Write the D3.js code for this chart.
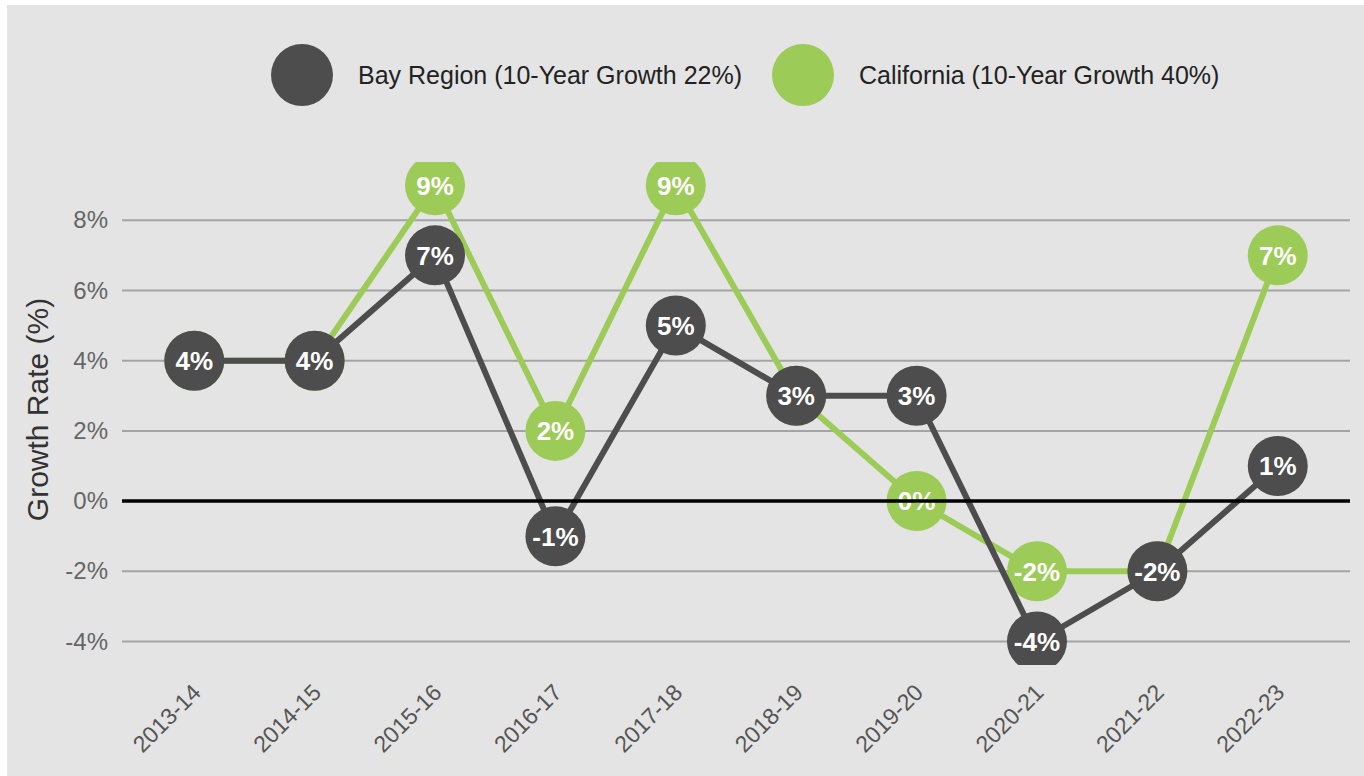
<!DOCTYPE html>
<html>
<head>
<meta charset="utf-8">
<script src="https://cdn.jsdelivr.net/npm/d3@7"></script>
<style>
  html, body { margin: 0; padding: 0; background: #ffffff; }
  svg { display: block; }
  text { font-family: "Liberation Sans", Arial, Helvetica, sans-serif; }
</style>
</head>
<body>
<svg id="chart" width="1364" height="776"></svg>
<script>
const categories = ["2013-14","2014-15","2015-16","2016-17","2017-18","2018-19","2019-20","2020-21","2021-22","2022-23"];
const bayValues = [4, 4, 7, -1, 5, 3, 3, -4, -2, 1];
const caValues  = [4, 4, 9, 2, 9, 3, 0, -2, -2, 7];
const yTicks = [-4, -2, 0, 2, 4, 6, 8];
const seriesNames = ["Bay Region (10-Year Growth 22%)", "California (10-Year Growth 40%)"];
const seriesColors = ["#4d4d4d", "#9dcb57"];

const W = 1364, H = 776;
const svg = d3.select("#chart");

// background panel
svg.append("rect").attr("x", 7).attr("y", 5).attr("width", W - 7).attr("height", H - 5).attr("fill", "#e4e4e4");

const plotLeft = 122, plotRight = 1350, plotTop = 162, plotBottom = 665;
const x = d3.scalePoint().domain(categories).range([plotLeft, plotRight]).padding(0.6);
const y = d3.scaleLinear().domain([-4.67, 9.66]).range([plotBottom, plotTop]);

// gridlines
const grid = svg.append("g");
grid.selectAll("line").data(yTicks.filter(d => d !== 0)).join("line")
  .attr("x1", plotLeft).attr("x2", plotRight)
  .attr("y1", d => y(d)).attr("y2", d => y(d))
  .attr("stroke", "#a4a4a4").attr("stroke-width", 2);

// y axis labels
const yAxis = d3.axisLeft(y).tickValues(yTicks).tickFormat(d => d + "%").tickSize(0).tickPadding(0);
const yG = svg.append("g").attr("transform", `translate(108,0)`).call(yAxis);
yG.select(".domain").remove();
yG.selectAll("text").attr("font-size", 24).attr("fill", "#666").attr("font-family", "Liberation Sans, Arial, sans-serif");

// y title
svg.append("text")
  .attr("transform", `translate(48,${(plotTop + plotBottom) / 2 - 4}) rotate(-90)`)
  .attr("text-anchor", "middle")
  .attr("font-size", 30).attr("fill", "#333")
  .text("Growth Rate (%)");

// x axis labels
const xAxis = d3.axisBottom(x).tickSize(0).tickPadding(0);
const xG = svg.append("g").attr("transform", `translate(0,0)`).call(xAxis);
xG.select(".domain").remove();
xG.selectAll(".tick").attr("transform", d => `translate(${x(d) + 8},694)`);
xG.selectAll("text")
  .attr("y", 0).attr("dy", 0)
  .attr("transform", "rotate(-45)")
  .attr("text-anchor", "end")
  .attr("font-size", 23).attr("fill", "#555").attr("font-family", "Liberation Sans, Arial, sans-serif");

// clip
svg.append("clipPath").attr("id", "plotclip").append("rect")
  .attr("x", 7).attr("y", plotTop).attr("width", W - 7).attr("height", plotBottom - plotTop);

const plot = svg.append("g").attr("clip-path", "url(#plotclip)");
const line = d3.line().x((d, i) => x(categories[i])).y(d => y(d));

function drawSeries(values, color) {
  const g = plot.append("g");
  g.append("path").datum(values).attr("d", line)
    .attr("fill", "none").attr("stroke", color).attr("stroke-width", 6).attr("stroke-linejoin", "round");
  const pts = g.selectAll("g.pt").data(values).join("g").attr("class", "pt")
    .attr("transform", (d, i) => `translate(${x(categories[i])},${y(d)})`);
  pts.append("circle").attr("r", 30).attr("fill", color);
  pts.append("text").attr("text-anchor", "middle").attr("dy", "0.36em")
    .attr("font-size", 26).attr("font-weight", "bold").attr("fill", "#ffffff")
    .text(d => d + "%");
}
drawSeries(caValues, seriesColors[1]);
drawSeries(bayValues, seriesColors[0]);

// zero line on top
svg.append("line").attr("x1", plotLeft).attr("x2", plotRight)
  .attr("y1", y(0)).attr("y2", y(0)).attr("stroke", "#000").attr("stroke-width", 3.5);

// legend
const legendX = [302, 803];
const legend = svg.append("g");
seriesNames.forEach((name, i) => {
  legend.append("circle").attr("cx", legendX[i]).attr("cy", 75).attr("r", 31).attr("fill", seriesColors[i]);
  legend.append("text").attr("x", legendX[i] + 56).attr("y", 84)
    .attr("font-size", 25).attr("fill", "#222").text(name);
});
</script>
</body>
</html>
